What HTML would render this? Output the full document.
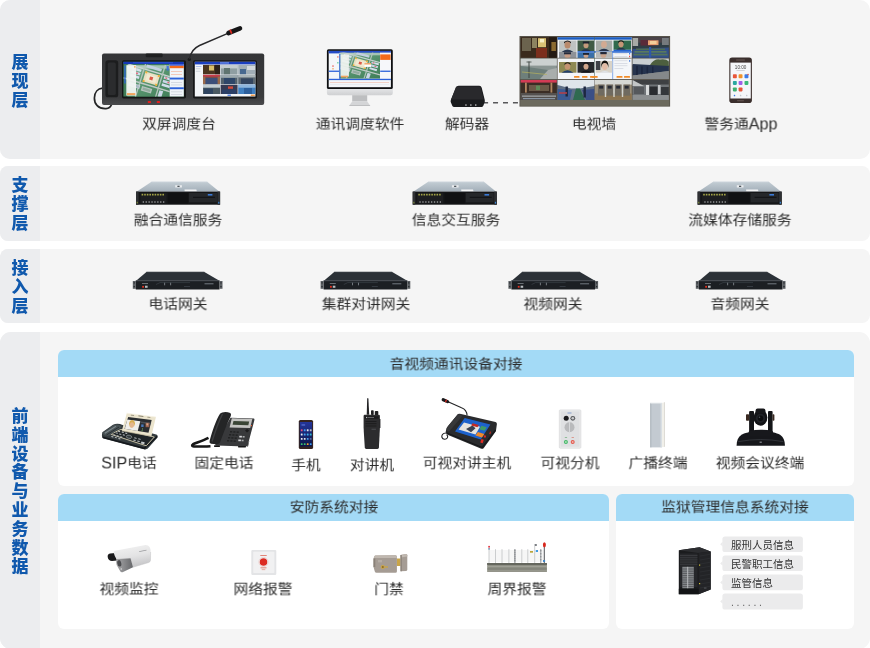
<!DOCTYPE html>
<html lang="zh-CN">
<head>
<meta charset="utf-8">
<title>系统架构</title>
<style>
html,body{margin:0;padding:0;background:#fff;}
body{width:870px;height:648px;position:relative;overflow:hidden;font-family:"Liberation Sans","Noto Sans CJK SC",sans-serif;color:#333;}
.panel{position:absolute;left:0;width:870px;background:#f5f5f5;border-radius:9px;overflow:hidden;}
.panel .lab{position:absolute;left:0;top:0;bottom:0;width:40px;background:#ecedef;}
.vt{position:absolute;left:0;width:40px;text-align:center;font-weight:900;font-size:17px;line-height:18.8px;color:#1059ad;}
.t,.vt,.chip{will-change:transform;}
.t{position:absolute;white-space:nowrap;font-size:14.75px;line-height:20px;height:20px;transform:translateX(-50%) scaleY(.9);color:#2c2c2c;}
.t .en{display:inline-block;font-size:16.2px;line-height:0;transform:scaleY(1.111);vertical-align:baseline;}
.box{position:absolute;background:#fff;border-radius:6px;overflow:hidden;}
.box .hd{position:absolute;left:0;top:0;right:0;height:27px;background:#a3daf6;}
.chip{position:absolute;left:722px;width:81px;height:16px;font-size:10.5px;line-height:16px;color:#333;padding-left:9px;box-sizing:border-box;white-space:nowrap;}
svg{position:absolute;overflow:visible;}
</style>
</head>
<body>
<!-- panels -->
<div class="panel" style="top:0;height:159px;border-radius:10px;"><div class="lab"></div></div>
<div class="panel" style="top:166px;height:75px;border-radius:8px;"><div class="lab"></div></div>
<div class="panel" style="top:249px;height:74px;border-radius:8px;"><div class="lab"></div></div>
<div class="panel" style="top:332px;height:317px;border-radius:11px;"><div class="lab"></div></div>

<!-- vertical labels -->
<div class="vt" style="top:53.5px;">展<br>现<br>层</div>
<div class="vt" style="top:176.5px;">支<br>撑<br>层</div>
<div class="vt" style="top:259.5px;">接<br>入<br>层</div>
<div class="vt" style="top:407.5px;">前<br>端<br>设<br>备<br>与<br>业<br>务<br>数<br>据</div>

<!-- inner boxes -->
<div class="box" style="left:58px;top:350px;width:796px;height:136px;"><div class="hd"></div></div>
<div class="box" style="left:58px;top:494px;width:551px;height:135px;"><div class="hd"></div></div>
<div class="box" style="left:616px;top:494px;width:238px;height:135px;"><div class="hd"></div></div>

<!-- GRAPHICS -->
<svg width="870" height="648" viewBox="0 0 870 648" style="left:0;top:0;">
<defs>
<linearGradient id="gTop" x1="0" y1="0" x2="0" y2="1"><stop offset="0" stop-color="#c3cdd4"/><stop offset="1" stop-color="#a2aeb8"/></linearGradient>
<linearGradient id="gMap" x1="0" y1="0" x2="1" y2="1"><stop offset="0" stop-color="#8fa79a"/><stop offset="0.5" stop-color="#7c9484"/><stop offset="1" stop-color="#6f8a78"/></linearGradient>
<linearGradient id="gMap2" x1="0" y1="0" x2="1" y2="1"><stop offset="0" stop-color="#a9c6b6"/><stop offset="0.35" stop-color="#5d9a74"/><stop offset="1" stop-color="#3f7d57"/></linearGradient>
<g id="map">
<rect x="0" y="0" width="48" height="34" fill="url(#gMap2)"/>
<rect x="0" y="0" width="48" height="3.5" fill="#b7d0c6" opacity=".8"/>
<g transform="rotate(17 24 17)">
<rect x="-4" y="5.500" width="58" height="1.500" fill="#c9d3d2"/>
<rect x="-4" y="20.500" width="58" height="1.700" fill="#bfcac6"/>
<rect x="13" y="-4" width="1.400" height="44" fill="#b4c4bc"/>
<rect x="33" y="-4" width="1.400" height="44" fill="#b4c4bc"/>
<rect x="2" y="7.800" width="9.500" height="2.600" fill="#d6e2ee"/><rect x="2" y="11.600" width="9.500" height="2.600" fill="#cfdcea"/><rect x="2" y="15.400" width="9.500" height="2.600" fill="#d6e2ee"/>
<rect x="15.500" y="1" width="16" height="3" fill="#c3d0e0"/>
<rect x="16" y="8.500" width="15.500" height="10.500" fill="#e9e0c3"/><rect x="18.500" y="10.500" width="10.500" height="6.500" fill="#f1ead2"/>
<rect x="22" y="12" width="3.400" height="3.400" fill="#dc5a48"/>
<rect x="16" y="8" width="2" height="2" fill="#efb03a"/><rect x="29.500" y="8" width="2" height="2" fill="#efb03a"/><rect x="16" y="17.600" width="2" height="2" fill="#efb03a"/><rect x="29.500" y="17.600" width="2" height="2" fill="#efb03a"/>
<rect x="36" y="7.500" width="9" height="2.600" fill="#d3deec"/><rect x="36" y="11.400" width="9" height="2.600" fill="#cad6e6"/><rect x="36" y="15.300" width="9" height="2.600" fill="#d3deec"/>
<rect x="37.500" y="8" width="2" height="1.500" fill="#e26a78"/><rect x="41" y="11.900" width="2" height="1.500" fill="#e26a78"/>
<rect x="4" y="8.300" width="2" height="1.500" fill="#e26a78"/><rect x="7" y="12.100" width="2" height="1.500" fill="#e26a78"/>
<rect x="3" y="23.800" width="12" height="4" fill="#c6d0d6"/><rect x="4" y="24.600" width="10" height="2.400" fill="#a9bbc4"/>
<rect x="17" y="24" width="11" height="5" fill="#b5c3bd"/><rect x="18.500" y="25.200" width="8" height="2.600" fill="#93ab9f"/>
<rect x="35.500" y="23" width="4" height="7" fill="#cbd7e6"/>
</g>
</g>
<clipPath id="cpMap1"><rect x="123.400" y="64.100" width="46.300" height="32.400"/></clipPath>
<clipPath id="cpMap2"><rect x="339.300" y="52.600" width="40.700" height="26.200"/></clipPath>
<linearGradient id="gBody" x1="0" y1="0" x2="0" y2="1"><stop offset="0" stop-color="#343537"/><stop offset="0.85" stop-color="#3a3b3d"/><stop offset="1" stop-color="#4a4b4d"/></linearGradient>
<linearGradient id="gChin" x1="0" y1="0" x2="0" y2="1"><stop offset="0" stop-color="#e6e7e9"/><stop offset="1" stop-color="#cfd0d2"/></linearGradient>
<linearGradient id="gPhoneScr" x1="0" y1="0" x2="0" y2="1"><stop offset="0" stop-color="#24359a"/><stop offset="1" stop-color="#0c1648"/></linearGradient>
</defs>

<!-- ===== console ===== -->
<g>
<path d="M112 96 C112.5 103 112 108.3 106 108.6 C98 109 94.3 104 94.4 98 C94.5 92 98 88.6 102.5 88.2" fill="none" stroke="#242526" stroke-width="1.7"/>
<rect x="102" y="53.4" width="162.2" height="51.6" rx="2" fill="url(#gBody)"/>
<rect x="145.7" y="53.4" width="17" height="3.8" rx="1.2" fill="#1f2021"/>
<rect x="105.4" y="60.3" width="12.8" height="37" rx="2.6" fill="#1c1d1e"/>
<rect x="107.8" y="62.6" width="8" height="32.4" rx="1.6" fill="#2b2c2e"/>
<!-- left screen -->
<rect x="122" y="60.3" width="64" height="38.1" rx="1.6" fill="#151617"/>
<rect x="123.400" y="61.800" width="60.400" height="34.700" fill="#3f7d57"/>
<g clip-path="url(#cpMap1)"><use href="#map" transform="translate(127.400 65.300) scale(0.965 0.955)"/></g>
<rect x="123.400" y="61.800" width="60.400" height="2.300" fill="#1436b8"/>
<rect x="133" y="62.300" width="40" height="1" fill="#2d54d6" opacity=".9"/>
<rect x="124.200" y="65.500" width="1.500" height="18" fill="#2d62da" opacity=".85"/>
<rect x="126.300" y="65.200" width="9.700" height="30.400" fill="#f3f6f4" opacity=".93"/>
<rect x="126.900" y="93.100" width="8.400" height="2" fill="#f2a45c"/>
<rect x="134" y="66" width="1.700" height="1.700" rx=".8" fill="#f2a45c"/>
<rect x="166.600" y="66" width="2.200" height="4.500" fill="#3a6ee0" opacity=".9"/>
<rect x="169.7" y="64.1" width="14.1" height="32.4" fill="#f1f4f9"/>
<rect x="169.7" y="64.1" width="14.1" height="1.7" fill="#2d55dc"/>
<rect x="169.7" y="65.8" width="14.1" height="2.4" fill="#f26a1b"/>
<rect x="169.7" y="77.6" width="14.1" height="1.9" fill="#2d62da"/>
<rect x="169.7" y="87.3" width="14.1" height="1.9" fill="#2d62da"/>
<rect x="171" y="71" width="11" height=".7" fill="#f2b7a0"/><rect x="171" y="74" width="11" height=".7" fill="#f2b7a0"/>
<rect x="171" y="82" width="11" height=".7" fill="#c9cfd8"/><rect x="171" y="84.6" width="11" height=".7" fill="#c9cfd8"/>
<rect x="171" y="91.5" width="11" height=".7" fill="#c9cfd8"/><rect x="171" y="94" width="11" height=".7" fill="#c9cfd8"/>
<!-- right screen -->
<rect x="193" y="60.3" width="64" height="38.1" rx="1.6" fill="#151617"/>
<rect x="194.8" y="61.8" width="60.6" height="34.7" fill="#f2f4f7"/>
<rect x="194.8" y="61.8" width="60.6" height="2.6" fill="#1a3fc0"/>
<rect x="220" y="62.4" width="9" height="1.1" fill="#7fa0ee"/>
<rect x="195.8" y="66" width="5.6" height=".8" fill="#9fb4e6"/><rect x="195.8" y="68.4" width="4.6" height=".8" fill="#c6ccd6"/><rect x="195.8" y="70.8" width="4.6" height=".8" fill="#c6ccd6"/>
<!-- 3x3 grid -->
<rect x="203" y="64.9" width="17" height="9.3" fill="#4a3520"/><rect x="209" y="65.5" width="5" height="5" fill="#d9bf6a"/><rect x="215" y="64.9" width="5" height="9.3" fill="#2c2218"/>
<rect x="220.6" y="64.9" width="17" height="9.3" fill="#8f9ea2"/><rect x="220.6" y="64.9" width="17" height="3.5" fill="#c3ccd0"/><rect x="224" y="68" width="6" height="6.2" fill="#5f7470"/>
<rect x="238.2" y="64.9" width="17.2" height="9.3" fill="#a0adb6"/><rect x="240" y="69" width="6" height="5.2" fill="#47688f"/><rect x="247" y="66" width="8" height="4" fill="#d2d8dc"/>
<rect x="203" y="74.8" width="17" height="9.3" fill="#7a4a48"/><rect x="203" y="74.8" width="17" height="1.8" fill="#c83a48"/><rect x="205" y="78" width="13" height="6.1" fill="#3c4f78"/><rect x="203" y="76.6" width="2.4" height="7.5" fill="#9a6a4a"/><rect x="217.6" y="76.6" width="2.4" height="7.5" fill="#9a6a4a"/>
<rect x="220.6" y="74.8" width="17" height="9.3" fill="#52616c"/><rect x="220.6" y="74.8" width="17" height="3" fill="#9ba8ad"/><rect x="224" y="78" width="11" height="6" fill="#2e4668"/>
<rect x="238.2" y="74.8" width="17.2" height="9.3" fill="#5c6972"/><rect x="238.2" y="74.8" width="17.2" height="2.6" fill="#aab4b8"/><rect x="241" y="78.4" width="12" height="5.7" fill="#33455f"/>
<rect x="203" y="84.7" width="17" height="9.3" fill="#4b5a62"/><rect x="203" y="84.7" width="17" height="3" fill="#c4ced2"/><rect x="204" y="88.5" width="9" height="5.5" fill="#2f4460"/>
<rect x="220.6" y="84.7" width="17" height="9.3" fill="#353a52"/><rect x="228" y="86.4" width="5" height="2.4" fill="#d24a3a"/><rect x="222" y="89.5" width="14" height="4.5" fill="#2b3f66"/>
<rect x="238.2" y="84.7" width="17.2" height="9.3" fill="#3f7fc0"/><rect x="238.2" y="84.7" width="17.2" height="3" fill="#8fb6dc"/><rect x="244" y="88" width="8" height="6" fill="#2c5f9c"/>
<rect x="227.5" y="94.6" width="3.4" height="1.2" fill="#3a6fe0"/><rect x="250.8" y="94.6" width="4" height="1.3" fill="#f0923a"/>
<!-- buttons, mic -->
<rect x="147.8" y="101" width="3.2" height="2.1" rx=".6" fill="#e3201f"/><rect x="156.8" y="101" width="3.2" height="2.1" rx=".6" fill="#e3201f"/>
<circle cx="189.3" cy="59.4" r="1.7" fill="#1a1b1c"/>
<path d="M189.4 59 C190.3 53.5 193 48.5 199.5 45.5 L229 32.8" fill="none" stroke="#29292b" stroke-width="1.4"/>
<path d="M228.5 33 L240 28.4" stroke="#161617" stroke-width="4.6" stroke-linecap="round"/>
<path d="M231.7 33.7 L230 29.6" stroke="#e02a22" stroke-width="1.7"/>
</g>

<!-- ===== monitor ===== -->
<g>
<path d="M326.9 88 h65.9 v5 a2.2 2.2 0 0 1 -2.2 2.2 h-61.5 a2.2 2.2 0 0 1 -2.2 -2.2z" fill="url(#gChin)"/>
<rect x="326.9" y="49.3" width="65.9" height="39.7" rx="1.6" fill="#0f1012"/>
<rect x="328.7" y="50.9" width="62.2" height="36.3" fill="#f4f6f9"/>
<rect x="328.7" y="50.9" width="62.2" height="2.500" fill="#244cc8"/>
<g clip-path="url(#cpMap2)"><use href="#map" transform="translate(339.300 52.600) scale(0.850 0.772)"/></g>
<rect x="339.300" y="54" width="1.200" height="24.800" fill="#2d62da"/>
<rect x="340.500" y="54.500" width="8.400" height="22" fill="#eef3ef" opacity=".93"/>
<rect x="341" y="75.700" width="7" height="1.700" fill="#f2a45c"/>
<rect x="364.4" y="63.3" width="6.6" height="3.6" fill="#fff"/><rect x="364.4" y="63.3" width="6.6" height="1.1" fill="#f28a3a"/>
<rect x="380" y="52.6" width="10.9" height="26.2" fill="#f6f7fa"/>
<rect x="380.2" y="54.4" width="10.4" height="5.5" fill="#f26a1b"/>
<rect x="380.2" y="70.6" width="10.4" height="1.3" fill="#2d62da"/>
<rect x="328.7" y="70.6" width="10.4" height="1.3" fill="#2d62da"/>

<rect x="337" y="56.5" width="1.6" height=".9" fill="#e8504a"/><rect x="337" y="62.4" width="1.6" height=".9" fill="#39c089"/><rect x="332" y="65.6" width="2" height=".9" fill="#e8504a"/><rect x="332" y="68.4" width="2" height=".9" fill="#f0a35a"/>
<rect x="328.7" y="78.8" width="62.2" height="1.3" fill="#2d62da"/>
<rect x="330" y="82" width="59" height=".6" fill="#f1b9a6"/><rect x="330" y="84.2" width="59" height=".6" fill="#e3e6ec"/>
<path d="M352.2 95.2 h15 v6.3 h-15z" fill="#bdbec0"/>
<path d="M352.2 101.5 h15 l2.9 4.1 h-20.8z" fill="#d4d5d7"/>
<rect x="349.3" y="105" width="20.8" height=".8" fill="#b5b6b8"/>
</g>

<!-- ===== decoder + dashed link ===== -->
<path d="M483.1 102.7 H519.4" stroke="#58585a" stroke-width="1.5" stroke-dasharray="5 4.95" fill="none"/>
<g>
<path d="M456.6 85.8 h22.6 q2 0 2.5 1.9 l3 12 q.4 1.5 -.2 3 l-1.3 3.2 q-.5 1 -1.7 1 h-27.4 q-1.2 0 -1.7 -1 l-1.5 -3.4 q-.6 -1.4 0 -2.8 l5.2 -12.2 q.8 -1.7 2.5 -1.7z" fill="#1a1b1d"/>
<path d="M456.8 86.6 h22.2 q1.4 0 1.8 1.4 l2.9 11.6 h-32.6 l4.5 -11.8 q.4 -1.2 1.200 -1.2z" fill="#29292c"/>
<rect x="465.3" y="104.3" width="1.3" height="1.5" fill="#b9babc"/><rect x="470.2" y="104.3" width="1.3" height="1.5" fill="#b9babc"/><rect x="475.1" y="104.3" width="1.3" height="1.5" fill="#b9babc"/>
</g>
<!-- ===== TV wall ===== -->
<g>
<rect x="519.500" y="36" width="150.600" height="70.600" fill="#57534a"/>
<rect x="520.300" y="100" width="149" height="5.900" fill="#6c6a5e"/>

<!-- c1 r1 corridor -->
<rect x="520.7" y="37.2" width="36.1" height="20.5" fill="#3a2a1c"/>
<rect x="522" y="38" width="9" height="13" fill="#6b634e"/><rect x="532" y="38" width="5" height="10" fill="#8d8360"/>
<rect x="538" y="38.2" width="8" height="9" fill="#d8c174"/><rect x="540" y="39" width="4" height="3.4" fill="#f6efc6"/>
<rect x="536" y="48" width="11" height="9.7" fill="#7b2e1c"/><rect x="549" y="37.2" width="7.8" height="20.5" fill="#241a12"/><rect x="551.4" y="42" width="4.5" height="9" fill="#8b6a30"/>
<!-- c1 r2 fence -->
<rect x="520.7" y="58.6" width="36.1" height="20.5" fill="#8b9693"/>
<rect x="520.7" y="58.6" width="36.1" height="7" fill="#ccd1d0"/>
<path d="M520.7 66 L548 70 L548 79.100 L520.7 79.100z" fill="#6e7f7b"/>
<path d="M548 70 L556.800 68 V79.100 H540z" fill="#a9aeac"/>
<path d="M529 61.500 V78" stroke="#3f4643" stroke-width="1"/><path d="M526.500 62 L531.500 62" stroke="#3f4643" stroke-width=".8"/>
<path d="M522 72 L547 74.500" stroke="#b8b25c" stroke-width=".7"/>
<!-- c1 r3 hall -->
<rect x="520.7" y="80" width="36.1" height="19.9" fill="#3b2d25"/>
<rect x="520.7" y="80" width="36.1" height="2.6" fill="#d23b55"/>
<rect x="525" y="82.600" width="1.800" height="10" fill="#b08660"/><rect x="550.5" y="82.600" width="1.800" height="10" fill="#b08660"/>
<rect x="529" y="85" width="20" height="6" fill="#6a5a48"/><rect x="536" y="85.600" width="4" height="4.500" fill="#5f8a58"/>
<rect x="520.7" y="93" width="36.1" height="6.900" fill="#54504e"/>
<rect x="522" y="95.500" width="34" height="1.300" fill="#b9bdc2" opacity=".75"/><rect x="523" y="98" width="32" height="1.200" fill="#9fb2c8" opacity=".7"/>
<!-- center conferencing UI (c2-c3, r1-r2) -->
<rect x="557.6" y="37.2" width="74.1" height="41.900" fill="#f4f6f9"/>
<rect x="557.6" y="37.2" width="74.1" height="2.500" fill="#1a5cc2"/>
<rect x="559" y="40.500" width="17.500" height="11.500" fill="#bfc3c2"/><ellipse cx="567.500" cy="45" rx="3" ry="3.600" fill="#b98a6c"/><path d="M564 43.500 q3.500 -3.800 7 0 v-1.500 q-3.500 -3 -7 0z" fill="#231d1b"/><path d="M561.500 52 q6 -5 12 0z" fill="#2c3950"/>
<rect x="577.5" y="40.500" width="16.500" height="10.700" fill="#3f5a45"/><ellipse cx="586" cy="45.300" rx="2.500" ry="3" fill="#c49a7c"/><rect x="582.800" y="41.500" width="6.400" height="2" fill="#1d2230"/><path d="M581 51.200 q5 -4.500 10 0z" fill="#27324a"/>
<rect x="577.5" y="51.200" width="54.200" height="1.500" fill="#2463d0"/>
<rect x="559" y="52" width="17.500" height="6" fill="#8e9298"/><ellipse cx="567.500" cy="55.500" rx="3" ry="2.500" fill="#c59b84"/><rect x="564" y="52.300" width="7" height="2" fill="#252a3a"/>
<rect x="577.5" y="52.700" width="16.500" height="5.300" fill="#3a6fa8"/><ellipse cx="586" cy="56" rx="2.500" ry="2" fill="#caa088"/><rect x="583" y="53" width="6" height="1.800" fill="#1d2230"/>
<rect x="557.6" y="57.800" width="74.100" height=".800" fill="#6a6a62"/>
<rect x="559" y="62" width="17.500" height="10.700" fill="#8e8a54"/><ellipse cx="567.500" cy="66.500" rx="2.800" ry="3.300" fill="#c49372"/><path d="M564.500 65 q3 -3.600 6 0 v-1.500 q-3 -2.600 -6 0z" fill="#1f1a18"/><path d="M561.500 72.700 q6 -5 12 0z" fill="#25406e"/>
<rect x="577.5" y="62" width="16.500" height="10.700" fill="#26282c"/><ellipse cx="586" cy="66.500" rx="2.500" ry="3.100" fill="#d0a68c"/><path d="M583.300 65.300 q2.700 -3.800 5.400 0 v-1.700 q-2.700 -2.500 -5.400 0z" fill="#15161a"/><path d="M580.500 72.700 q5.500 -4.500 11 0z" fill="#14161c"/>
<rect x="574" y="76" width="5.500" height="1.800" rx=".5" fill="#f28c28"/><rect x="582" y="76" width="5.500" height="1.800" rx=".5" fill="#f28c28"/><rect x="590" y="76" width="4.500" height="1.800" rx=".5" fill="#f28c28"/>
<rect x="594.400" y="37.2" width=".600" height="41.900" fill="#4e6a60"/>
<rect x="595.800" y="40.500" width="16.500" height="10.500" fill="#a7aca8"/><ellipse cx="604" cy="44.500" rx="2.900" ry="3.400" fill="#d2aa92"/><path d="M598.500 51 q5.500 -4.600 11 0z" fill="#28344c"/>
<rect x="613.5" y="40.500" width="17.500" height="9.300" fill="#2f6a4c"/><ellipse cx="621" cy="44.300" rx="2.600" ry="3.100" fill="#c49676"/><path d="M618.200 43 q2.800 -3.600 5.600 0 v-1.500 q-2.800 -2.400 -5.600 0z" fill="#1b1a18"/><path d="M616 49.800 q5 -4 10 0z" fill="#2a3348"/>
<rect x="613.5" y="49.800" width="17.500" height="1.400" fill="#2463d0"/>
<rect x="595.800" y="51.400" width="16.500" height="6.400" fill="#b7b9b8"/><ellipse cx="603.500" cy="55.500" rx="2.800" ry="2.300" fill="#c9a48e"/><rect x="600.300" y="52" width="6.400" height="2.200" fill="#252a3a"/>
<rect x="614.400" y="53.500" width="13" height=".600" fill="#c9ced8"/><rect x="614.400" y="56" width="13" height=".600" fill="#c9ced8"/><rect x="614.400" y="60.500" width="13" height=".600" fill="#c9ced8"/><rect x="614.400" y="63" width="13" height=".600" fill="#c9ced8"/><rect x="614.400" y="65.500" width="13" height=".600" fill="#c9ced8"/><rect x="614.400" y="68" width="9" height=".600" fill="#c9ced8"/>
<rect x="629" y="53" width="1.200" height="1.500" fill="#3f7ae0"/><rect x="629" y="55.700" width="1.200" height="1.500" fill="#e8504a"/><rect x="629" y="60.200" width="1.200" height="1.500" fill="#3f7ae0"/>
<rect x="612.500" y="51.400" width=".600" height="27.700" fill="#3f7ae0"/>
<rect x="595.800" y="61" width="16.500" height="11.700" fill="#d9d3c8"/><rect x="595.800" y="61" width="4.500" height="9" fill="#3f4248"/><ellipse cx="604.800" cy="66.500" rx="2.800" ry="3.400" fill="#e2bca6"/><path d="M601.300 68 q-.800 -7.500 3.500 -7.500 q4.300 0 3.500 7.500 q-.300 -5 -3.500 -5 q-3.200 0 -3.500 5z" fill="#15130f"/><path d="M599.500 72.700 q5.300 -3.600 10.600 0z" fill="#dfe3ea"/>
<rect x="591.700" y="76" width="6" height="1.800" rx=".5" fill="#f28c28"/><rect x="616.500" y="76" width="6" height="1.800" rx=".5" fill="#f28c28"/><rect x="624" y="76" width="6" height="1.800" rx=".5" fill="#f28c28"/>
<!-- c2 r3 work hall -->
<rect x="557.6" y="80" width="36.800" height="19.900" fill="#5f6f86"/>
<path d="M557.6 80 H594.400 V86 L580 88.500 L571 88.500 L557.6 85z" fill="#dfe5ea"/>
<path d="M573 99.900 L576 88.500 L580 88.500 L585 99.900z" fill="#2f6a50"/>
<path d="M557.6 89 L572 90 L570 99.900 H557.600z" fill="#3b5a94"/><path d="M594.400 89 L582 90 L586 99.900 H594.400z" fill="#3b4f86"/>
<rect x="565.500" y="86.500" width="2.400" height="10" fill="#1d2740"/><rect x="583.500" y="86.500" width="2.400" height="11" fill="#1d2740"/>
<rect x="559" y="92" width="8" height="2" fill="#b0404a" opacity=".8"/>
<!-- c3 r3 booths -->
<rect x="594.800" y="80" width="36.900" height="19.900" fill="#9a8f7a"/>
<rect x="594.800" y="80" width="36.900" height="4.600" fill="#d6d8d4"/>
<rect x="594.800" y="93.500" width="36.900" height="6.400" fill="#8a7350"/>
<rect x="598" y="84.600" width="6.500" height="11" fill="#6f6a60"/><rect x="606.500" y="84.600" width="6.500" height="11" fill="#6f6a60"/><rect x="615" y="84.600" width="6.500" height="11" fill="#6f6a60"/><rect x="623.500" y="84.600" width="6.500" height="11" fill="#6f6a60"/>
<rect x="599.200" y="85.800" width="4" height="2.800" fill="#262a33"/><rect x="607.700" y="85.800" width="4" height="2.800" fill="#262a33"/><rect x="616.200" y="85.800" width="4" height="2.800" fill="#262a33"/><rect x="624.700" y="85.800" width="4" height="2.800" fill="#262a33"/>
<rect x="604.800" y="83" width="1.400" height="14" fill="#cfd2cf"/><rect x="613.300" y="83" width="1.400" height="14" fill="#cfd2cf"/><rect x="621.800" y="83" width="1.400" height="14" fill="#cfd2cf"/>
<!-- c4 r1 auditorium -->
<rect x="632.600" y="37.200" width="36.200" height="20.500" fill="#2f3d45"/>
<rect x="632.600" y="37.200" width="36.200" height="5.500" fill="#4b4348"/>
<rect x="632.600" y="38" width="5.500" height="8" fill="#a7aaa6"/>
<rect x="640.500" y="40" width="14" height="5.600" fill="#5a2a38"/><rect x="648" y="40.300" width="10.500" height="4.800" fill="#e7a070"/><rect x="650" y="41" width="6.500" height="3" fill="#f3cf9a"/>
<rect x="662" y="38" width="6.800" height="7" fill="#767a7e"/>
<path d="M632.600 49 L668.800 47.500 V57.700 H632.600z" fill="#33508a"/>
<rect x="636" y="48.500" width="29" height="1.600" fill="#4f6d55"/><rect x="634.500" y="51" width="32" height="1.700" fill="#587a5e"/><rect x="633.500" y="53.700" width="34" height="1.800" fill="#54735a"/>
<rect x="649" y="47" width="2.200" height="10.700" fill="#3058a8"/>
<!-- c4 r2 parade -->
<rect x="632.600" y="58.600" width="36.200" height="20.500" fill="#7c807f"/>
<rect x="632.600" y="58.600" width="36.200" height="6.500" fill="#c9cfd2"/>
<path d="M650 65 q4 -6.500 10 -5.500 q6 -1 8.800 2 V67 H650z" fill="#4d5f3f"/>
<path d="M632.600 64 L668.800 66 V71 L632.600 75.500z" fill="#26344e"/>
<rect x="636" y="66" width="2" height="9" fill="#1c2740"/><rect x="641" y="66.500" width="1.800" height="9.500" fill="#1c2740"/><rect x="646.500" y="66.500" width="1.600" height="8" fill="#1c2740"/><rect x="652" y="66.500" width="1.500" height="6.500" fill="#1c2740"/>
<path d="M632.600 75.500 L668.800 71 V79.100 H632.600z" fill="#85888a"/>
<!-- c4 r3 garage -->
<rect x="632.600" y="80" width="36.200" height="19.900" fill="#6f7377"/>
<rect x="632.600" y="80" width="36.200" height="4.500" fill="#3e4043"/>
<path d="M632.600 80 L644 86 H632.600z" fill="#c2c5c6"/>
<rect x="646" y="85" width="3" height="10" fill="#d9dbdc"/><rect x="658" y="85" width="2.500" height="9" fill="#c6c8ca"/>
<rect x="649.500" y="86.500" width="8" height="8.500" fill="#2a2c30"/><rect x="661" y="87" width="7.800" height="9" fill="#34373b"/>
<rect x="632.600" y="95" width="36.200" height="4.900" fill="#8b8e90"/><rect x="634" y="87" width="10" height="7" fill="#55585c"/>
</g>

<!-- ===== phone (警务通App) ===== -->
<g>
<rect x="729.300" y="57.600" width="22.600" height="45.500" rx="2.800" fill="#3b2f2d"/>
<rect x="730.400" y="62.600" width="20.400" height="35.900" fill="#f5f6f9"/>
<rect x="736" y="59.500" width="9" height=".900" rx=".4" fill="#6a5a56"/><rect x="737" y="100.300" width="7" height=".900" rx=".4" fill="#6a5a56"/>
<text x="740.600" y="68.900" font-size="4.600" text-anchor="middle" fill="#444" font-family="Liberation Sans, sans-serif">10:00</text>
<rect x="736.500" y="70.200" width="8.200" height=".600" fill="#b9bcc2"/>
<rect x="732.900" y="74.300" width="3.900" height="4" rx=".8" fill="#e8563a"/><rect x="738.600" y="74.300" width="3.900" height="4" rx=".8" fill="#f0922a"/><rect x="744.500" y="74.300" width="3.900" height="4" rx=".8" fill="#3b7be8"/><rect x="747.300" y="73.800" width="1.500" height="1.500" rx=".7" fill="#e8503a"/>
<rect x="732.900" y="80.900" width="3.900" height="4" rx=".8" fill="#2aa8a0"/><rect x="738.600" y="80.900" width="3.900" height="4" rx=".8" fill="#a060e8"/><rect x="744.500" y="80.900" width="3.900" height="4" rx=".8" fill="#3cb878"/>
<rect x="732.900" y="87.400" width="3.900" height="4" rx=".8" fill="#40b070"/><rect x="738.600" y="87.400" width="3.900" height="4" rx=".8" fill="#e8563a"/>
<rect x="733.800" y="94.800" width="1.400" height="1.400" rx=".5" fill="#3b7be8"/><rect x="739.900" y="94.800" width="1.400" height="1.400" rx=".5" fill="#c3c6cc"/><rect x="746" y="94.800" width="1.400" height="1.400" rx=".5" fill="#c3c6cc"/>
</g>
<!-- ===== servers ===== -->
<defs>
<g id="srv">
<path d="M151.5 181.800 H207.200 L219.500 191.700 H136.500z" fill="url(#gTop)"/>
<path d="M151.5 181.800 H207.200" stroke="#d5dce1" stroke-width=".6"/>
<rect x="175.200" y="185.200" width="6.700" height="2.300" fill="#e9ecee"/><rect x="177.400" y="185.700" width="2.200" height="1.300" fill="#4b5258"/>
<path d="M184.500 189.500 h11.800 l.6 1.900 h-12.200z" fill="#f3f4f5"/>
<rect x="136" y="191.600" width="84.100" height="13.100" fill="#151618"/>
<rect x="136" y="191.600" width="2.600" height="13.100" fill="#2e3033"/><rect x="217.500" y="191.600" width="2.600" height="13.100" fill="#2e3033"/>
<rect x="140.500" y="193.200" width="26" height="10" fill="#1d1e20"/>
<g fill="#a3a446"><rect x="141.600" y="193.800" width="1.600" height="1.700"/><rect x="144.200" y="193.800" width="1.600" height="1.700"/><rect x="146.800" y="193.800" width="1.600" height="1.700"/><rect x="149.400" y="193.800" width="1.600" height="1.700"/><rect x="152" y="193.800" width="1.600" height="1.700"/><rect x="154.600" y="193.800" width="1.600" height="1.700"/><rect x="157.200" y="193.800" width="1.600" height="1.700"/><rect x="159.800" y="193.800" width="1.600" height="1.700"/><rect x="162.400" y="193.800" width="1.600" height="1.700"/></g>
<g fill="#c9cbcd"><rect x="142.700" y="201.500" width="1.300" height="1"/><rect x="145.600" y="201.500" width="1.300" height="1"/><rect x="148.500" y="201.500" width="1.300" height="1"/><rect x="151.400" y="201.500" width="1.300" height="1"/><rect x="154.300" y="201.500" width="1.300" height="1"/><rect x="157.200" y="201.500" width="1.300" height="1"/><rect x="160.100" y="201.500" width="1.300" height="1"/><rect x="163" y="201.500" width="1.300" height="1"/></g>
<rect x="168" y="193" width="20" height="10.400" fill="#101113"/>
<rect x="189" y="193" width="28" height="9.400" fill="#25272a"/>
<rect x="193" y="196.800" width="22" height="1" fill="#111214"/>
<rect x="207.800" y="194" width="4.600" height="1.600" fill="#3a7ad6"/>
<rect x="218.200" y="201.800" width="1.200" height="1.800" fill="#3a86d6"/><rect x="136.700" y="201.800" width="1" height="1.600" fill="#8b9a3a"/>
</g>
<g id="gw">
<path d="M146.400 272 H204.400 L219 280.600 H136.400z" fill="#2b3137"/>
<path d="M146.400 272 H204.400" stroke="#464d55" stroke-width=".6"/>
<rect x="135.800" y="280.500" width="83.700" height="9" fill="#1c1f23"/>
<rect x="135.800" y="280.500" width="83.700" height=".8" fill="#3b4148"/>
<rect x="132.800" y="281" width="3.100" height="7.800" fill="#5c6064"/><rect x="219.400" y="281" width="3.100" height="7.800" fill="#5c6064"/>
<rect x="133.600" y="282.300" width="1.200" height="1.200" fill="#25282b"/><rect x="133.600" y="286" width="1.200" height="1.200" fill="#25282b"/><rect x="220.400" y="282.300" width="1.200" height="1.200" fill="#25282b"/><rect x="220.400" y="286" width="1.200" height="1.200" fill="#25282b"/>
<rect x="142.200" y="285.900" width="1.800" height="1.800" fill="#e2301f"/><rect x="145" y="285.700" width="2.600" height="2.100" fill="#b9bcbf"/>
<rect x="142" y="283.300" width="6" height=".7" fill="#8a9096"/>
<path d="M156 284.500 L160 282.600 H190" fill="none" stroke="#474e56" stroke-width=".5"/>
<rect x="164.300" y="282.700" width=".8" height="2.600" fill="#8a9096"/><rect x="170.300" y="282.700" width=".8" height="2.600" fill="#8a9096"/>
<rect x="184" y="286" width="6" height=".6" fill="#474e56"/>
<rect x="204.500" y="283.300" width="9" height="1" fill="#727980"/>
</g>
</defs>
<use href="#srv"/>
<use href="#srv" transform="translate(276.700 0)"/>
<use href="#srv" transform="translate(561.600 0)"/>
<use href="#gw"/>
<use href="#gw" transform="translate(187.800 0)"/>
<use href="#gw" transform="translate(375.600 0)"/>
<use href="#gw" transform="translate(563 0)"/>
<!-- ===== SIP phone ===== -->
<g>
<path d="M102.300 432.300 L113 424.800 Q116 423.300 120 424.100 L124 425.500 L157 434.800 Q158.200 436 157.300 437.800 L147.800 448.600 Q146.200 449.800 144 449.200 L103.500 438.600 Q101.700 437.600 101.900 435.600z" fill="#343b3e"/>
<path d="M102.600 437.300 L144.300 448.300 L157.200 436.300" fill="none" stroke="#15191d" stroke-width="1.700"/>
<path d="M110.700 434.200 L121 429.400 L154.300 437 L146.300 445.800z" fill="#1f2427" stroke="#d6ceb0" stroke-width=".9"/>
<path d="M103.200 432.600 L113.500 425.200 Q116.500 424.100 119.500 425.100 L121.700 427 L109.500 435.500 Q105.500 436.500 103.200 434.600z" fill="#485154"/>
<path d="M104.800 433.300 L116 426.200" stroke="#7a8589" stroke-width="1.300"/>
<path d="M106.500 435 L119 427" stroke="#2a3033" stroke-width="1"/>
<g fill="#c3c8cb"><rect x="113.500" y="434.300" width="2" height="1" transform="rotate(14 114 434)"/><rect x="117" y="435.200" width="2" height="1" transform="rotate(14 117 435)"/><rect x="120.500" y="436.100" width="2" height="1" transform="rotate(14 120 436)"/><rect x="116" y="432.400" width="2" height="1" transform="rotate(14 116 432)"/><rect x="119.500" y="433.300" width="2" height="1" transform="rotate(14 119 433)"/><rect x="123" y="434.200" width="2" height="1" transform="rotate(14 123 434)"/><rect x="118.500" y="430.700" width="2" height="1" transform="rotate(14 118 430)"/><rect x="122" y="431.600" width="2" height="1" transform="rotate(14 122 431)"/><rect x="125.500" y="432.500" width="2" height="1" transform="rotate(14 125 432)"/><rect x="111.500" y="436" width="2" height="1" transform="rotate(14 111 436)"/><rect x="115" y="436.900" width="2" height="1" transform="rotate(14 115 437)"/><rect x="118.500" y="437.800" width="2" height="1" transform="rotate(14 118 438)"/><rect x="133.500" y="439.300" width="2.400" height="1" transform="rotate(14 133 439)"/><rect x="137.500" y="440.300" width="2.400" height="1" transform="rotate(14 137 440)"/><rect x="134.500" y="437.200" width="2.400" height="1" transform="rotate(14 134 437)"/><rect x="138.500" y="438.200" width="2.400" height="1" transform="rotate(14 138 438)"/><rect x="141.500" y="441.300" width="3.400" height="2.200" transform="rotate(14 141 441)"/></g>
<ellipse cx="129" cy="436.800" rx="2.800" ry="1.600" fill="#343b3e" stroke="#a0a8ac" stroke-width=".6" transform="rotate(12 129 437)"/>
<path d="M126.800 413.200 L155.900 417 L151.400 436.300 L121.800 430.800z" fill="#ebe4cd"/>
<path d="M126.800 413.200 L155.900 417" stroke="#f8f4e6" stroke-width=".7"/>
<path d="M121.800 430.800 L151.400 436.300" stroke="#bdb59a" stroke-width=".7"/>
<path d="M128.200 416.900 L151.700 420 L148.500 432.800 L124.500 428.700z" fill="#2a2d31"/>
<path d="M127.300 419.600 L140.300 421.300 L137.700 431 L124.800 428.800z" fill="#f0eeea"/>
<ellipse cx="131.900" cy="424.700" rx="2.400" ry="3.200" fill="#e4b68c" transform="rotate(8 131.900 424.700)"/>
<path d="M129.200 426.500 q-.9 -6.200 3 -6.500 q3.700 .3 2.500 6.700 q-.3 -4.300 -2.600 -4.500 q-2.300 0 -2.900 4.300z" fill="#d9ae52"/>
<path d="M140.800 421.400 L151.200 422.800 L150.800 424.300 L140.400 422.900z" fill="#4a4f56"/>
<rect x="141.200" y="424.400" width="2.400" height="2.600" fill="#4a78b8"/><rect x="145.600" y="422.800" width="3.800" height="4.400" fill="#9a6350"/><rect x="146.400" y="423.400" width="1.800" height="2" fill="#d8a888"/>
<rect x="142" y="428.500" width="1" height=".9" fill="#7ac06a"/><rect x="141.600" y="430.300" width="1" height=".9" fill="#7ac06a"/>
<rect x="131" y="414.700" width="3.200" height=".7" fill="#8a8470" transform="rotate(7 131 414)"/><rect x="138.500" y="415.400" width="5" height=".8" fill="#6e6856" transform="rotate(7 138 415)"/><rect x="147.500" y="416.700" width="3" height=".7" fill="#8a8470" transform="rotate(7 147 416)"/>
</g>

<!-- ===== fixed phone ===== -->
<g>
<path d="M208.500 437.800 C204 440 196 443 193 444.300 C191.500 445.300 192 446.600 194 446.500 C200 446.400 206 446.600 210.500 446.300" fill="none" stroke="#161616" stroke-width="2.600" stroke-linejoin="round"/>
<path d="M230.500 417.800 L254 418.600 Q254.800 419.200 254.300 420.500 L247.800 445 Q247.200 446.500 245.500 446.500 L216.500 445.500 Q214.800 445.300 215.300 443.800z" fill="#38393b"/>
<path d="M247 446.500 L249.500 440 L248 446.500z" fill="#222"/>
<path d="M231.800 418.200 L252.300 418.900 L250.200 428 L229.600 427.500z" fill="#c4c4c2"/>
<path d="M233.500 420.900 L249.200 421.400 L248.300 425.200 L232.600 424.800z" fill="#3a4536"/>
<rect x="251" y="425" width="1" height="1.200" fill="#e2502a"/>
<path d="M245 430.500 l2.200 -1.600 l2 1.800 l-2.200 1.700z" fill="#1c1c1d"/>
<g fill="#232425"><rect x="230" y="431" width="2.200" height="1.500"/><rect x="233.300" y="431.200" width="2.200" height="1.500"/><rect x="236.600" y="431.400" width="2.200" height="1.500"/><rect x="229" y="434" width="2.200" height="1.500"/><rect x="232.300" y="434.200" width="2.200" height="1.500"/><rect x="235.600" y="434.400" width="2.200" height="1.500"/><rect x="228" y="437" width="2.200" height="1.500"/><rect x="231.300" y="437.200" width="2.200" height="1.500"/><rect x="234.600" y="437.400" width="2.200" height="1.500"/><rect x="227" y="440" width="2.200" height="1.500"/><rect x="230.300" y="440.200" width="2.200" height="1.500"/><rect x="233.600" y="440.400" width="2.200" height="1.500"/></g>
<rect x="239.300" y="435.800" width="2.600" height="1.700" fill="#d7d8da"/><rect x="242.600" y="436" width="2" height="1.600" fill="#a9abad"/><rect x="238.300" y="439.500" width="2.600" height="1.700" fill="#d7d8da"/><rect x="241.600" y="439.700" width="2" height="1.600" fill="#a9abad"/>
<path d="M222.300 412.400 Q226 411.300 230.300 412.900 Q231.500 414 230.800 416 C227 424 223 434 220 442.500 Q219 444.300 216.500 444.300 L211 443.800 Q209 443.200 209.600 441 C212 432 216 420 220 413.800 Q221 412.700 222.300 412.400z" fill="#242526"/>
<path d="M222.500 414 C219 421 215 432 212 441.500" fill="none" stroke="#3e3f41" stroke-width="1.400"/>
<rect x="214" y="445.300" width="6" height="1.600" rx=".6" fill="#161616"/><rect x="238" y="446" width="8" height="1.400" rx=".6" fill="#161616"/>
</g>

<!-- ===== mobile ===== -->
<g>
<rect x="298.800" y="419.900" width="14.300" height="29.100" rx="1.600" fill="#35231f"/>
<rect x="299.800" y="422" width="12.300" height="24.500" fill="url(#gPhoneScr)"/>
<rect x="301.500" y="424" width="3.600" height="1.900" fill="#4f66c8" opacity=".8"/>
<g><rect x="300.800" y="429.300" width="1.800" height="1.900" rx=".5" fill="#e4507a"/><rect x="303.800" y="429.300" width="1.800" height="1.900" rx=".5" fill="#3c9cf0"/><rect x="306.800" y="429.300" width="1.800" height="1.900" rx=".5" fill="#dfe3ea"/><rect x="309.800" y="429.300" width="1.800" height="1.900" rx=".5" fill="#b9bcc4"/>
<rect x="300.800" y="433.600" width="1.800" height="1.900" rx=".5" fill="#e8e8ef"/><rect x="303.800" y="433.600" width="1.800" height="1.900" rx=".5" fill="#4aa0f0"/><rect x="306.800" y="433.600" width="1.800" height="1.900" rx=".5" fill="#38b0e8"/><rect x="309.800" y="433.600" width="1.800" height="1.900" rx=".5" fill="#30b8c8"/>
<rect x="300.800" y="437.900" width="1.800" height="1.900" rx=".5" fill="#f0f0f4"/><rect x="303.800" y="437.900" width="1.800" height="1.900" rx=".5" fill="#e8e8ef"/><rect x="306.800" y="437.900" width="1.800" height="1.900" rx=".5" fill="#4aa0f0"/><rect x="309.800" y="437.900" width="1.800" height="1.900" rx=".5" fill="#5a6a9a"/>
<rect x="300.800" y="443.200" width="1.800" height="1.900" rx=".5" fill="#38c070"/><rect x="303.800" y="443.200" width="1.800" height="1.900" rx=".5" fill="#38c070"/><rect x="306.800" y="443.200" width="1.800" height="1.900" rx=".5" fill="#f0a030"/><rect x="309.800" y="443.200" width="1.800" height="1.900" rx=".5" fill="#3c9cf0"/></g>
</g>

<!-- ===== walkie-talkie ===== -->
<g>
<path d="M366.700 414.800 L367.200 398.500 Q367.800 397.300 368.400 398.500 L369.200 414.800z" fill="#232325"/>
<rect x="371" y="410.300" width="2.700" height="4.700" rx=".8" fill="#1f1f21"/><rect x="374.800" y="410.900" width="3.500" height="4.200" rx=".9" fill="#1f1f21"/>
<path d="M364.600 414.700 H378.800 Q379.900 414.700 379.900 416 L379.900 428 L378.900 447.600 Q378.800 448.900 377.500 448.900 H366.200 Q364.900 448.900 364.800 447.600 L363.600 428 V416 Q363.600 414.700 364.600 414.700z" fill="#2c2c2e"/>
<rect x="364.800" y="416.200" width="13.900" height="2.500" rx=".5" fill="#1a1a1c"/><rect x="366" y="416.900" width="1.300" height="1.200" fill="#b6b8ba"/><rect x="368" y="417" width="6" height=".9" fill="#6b6d70"/>
<rect x="365.500" y="421" width="11" height=".8" fill="#19191b"/><rect x="365.500" y="423.300" width="11" height=".8" fill="#19191b"/><rect x="365.500" y="425.600" width="11" height=".8" fill="#19191b"/>
<rect x="371.500" y="428.800" width="4.400" height=".8" fill="#54565a"/>
<rect x="379.400" y="419" width="1" height="9" fill="#1a1a1c"/>
</g>

<!-- ===== video intercom host ===== -->
<g>
<path d="M446 433 C442.500 433 441.300 435.500 442 437.500 C442.800 439.800 446.300 439.800 447.400 437.800 C448 436.600 447.500 435.300 446.500 434.800" fill="none" stroke="#1d1e20" stroke-width="1.100"/>
<path d="M467.100 415.500 C466.800 411.500 465 409 461.500 407.800 L447.500 401.600" fill="none" stroke="#222325" stroke-width="1.100"/>
<path d="M443.200 399.700 L447.600 401.600" stroke="#18181a" stroke-width="3.200" stroke-linecap="round"/>
<path d="M446.500 399.600 L445.500 402.300" stroke="#e02a22" stroke-width="1.200"/>
<path d="M458 414 Q459.500 413.500 461 413.900 L495.500 422 Q497 422.600 496.900 424 L495.900 431.300 L483.800 448 Q482.800 449.200 481.300 448.700 L447.500 434.700 Q445.500 433.600 445.700 431.400 Q446 428 448 426z" fill="#2a2b2d"/>
<path d="M447 433 L482.300 447.500 L495.500 430" fill="none" stroke="#17181a" stroke-width="1.300"/>
<path d="M457.600 414.400 Q460 413.800 461.500 415.200 L462 416.500 L449.500 431 Q447.500 431.600 446.500 430 Q446.300 428 448.200 426z" fill="#37383a"/>
<path d="M464.700 418 L490.400 424.600 L480.700 439.600 L455 431.400z" fill="#1d62cc"/>
<path d="M464 422.500 L480 426.800 L475.500 434.500 L458.600 429.600z" fill="#e6e4e0"/>
<path d="M466 429 l6.500 -3.500 l3 2.800 l-4.500 4z" fill="#3a4150"/>
<path d="M472.500 423.300 l6.300 1.700 l-1.300 2.200 l-6.300 -1.700z" fill="#c22a22"/>
<path d="M481.500 425.800 l5.300 1.400 l-2.200 3.600 l-5.300 -1.500z" fill="#3f9a6a"/>
<path d="M477.800 432 l6.500 1.900 l-2.300 3.700 l-6.500 -2z" fill="#f08a2a"/>
<rect x="484" y="435.400" width="2" height="2.200" fill="#e22a22" transform="rotate(17 485 436)"/><rect x="480.800" y="439.300" width="2.500" height="3.600" fill="#e22a22" transform="rotate(17 482 441)"/><rect x="489.800" y="431.500" width="1.200" height="2.600" fill="#c22a22" transform="rotate(17 490 432)"/>
</g>

<!-- ===== sub-unit ===== -->
<g>
<rect x="559.300" y="409.900" width="21.600" height="38.300" rx="1" fill="#eceded" stroke="#d2d3d5" stroke-width=".6"/>
<rect x="560.600" y="411.300" width="19" height="35.500" fill="#dfe0e2"/>
<rect x="567.500" y="412.600" width="4" height=".8" fill="#6f8fc8"/>
<circle cx="566.200" cy="418.300" r="2.500" fill="#1b1b1d"/><circle cx="572.800" cy="418.300" r="2.400" fill="#55575a"/><circle cx="572.800" cy="418.300" r="1.300" fill="#c9cacc"/>
<circle cx="569.500" cy="427.200" r="5" fill="#b9babc"/><rect x="569.100" y="422.200" width=".8" height="10" fill="#dfe0e2"/>
<rect x="564.800" y="437.300" width="2.300" height=".7" fill="#6fae7a"/><rect x="571.600" y="437.300" width="2.300" height=".7" fill="#d87a6a"/>
<circle cx="565.900" cy="442" r="2" fill="#3fb765"/><circle cx="565.900" cy="442" r="1" fill="#a8e0b4"/>
<circle cx="572.700" cy="442" r="2" fill="#e2564a"/><circle cx="572.700" cy="442" r="1" fill="#f3b0a8"/>
</g>

<!-- ===== speaker column ===== -->
<g>
<path d="M661.700 403 L664.900 402.200 V446.800 L661.700 447.300z" fill="#f1f0ea"/>
<path d="M664.400 402.300 L664.900 402.200 V446.800 L664.400 446.900z" fill="#c9c8c0"/>
<rect x="650.300" y="402.900" width="11.500" height="44.500" fill="#c3cad1"/>
<rect x="650.300" y="402.900" width="1" height="44.500" fill="#aab2ba"/><rect x="660.600" y="402.900" width="1.200" height="44.500" fill="#dde2e6"/>
<rect x="650.300" y="402.900" width="11.500" height=".8" fill="#e1e5e9"/>
</g>

<!-- ===== PTZ camera ===== -->
<g>
<path d="M736.600 445.700 C736.600 441 738 437 741.500 434.700 C745 432.700 752 431.200 760.800 431.200 C769.500 431.200 776.500 432.700 780 434.700 C783.500 437 784.900 441 784.900 445.700 Z" fill="#16171b"/>
<path d="M738.300 441.600 Q760.700 437.500 783.200 441.600" fill="none" stroke="#3d4046" stroke-width=".7"/>
<rect x="749.100" y="411" width="4.900" height="24" rx="1" fill="#141518"/><rect x="768" y="411" width="4.600" height="24" rx="1" fill="#141518"/>
<path d="M749.100 431 Q760.700 428.500 772.600 431 L774 436 H747.500z" fill="#17181c"/>
<rect x="746" y="414.200" width="3.100" height="6.500" rx=".8" fill="#3a2a22"/><rect x="772.500" y="414.200" width="1.900" height="6.500" rx=".8" fill="#3a2a22"/>
<ellipse cx="760.500" cy="417.500" rx="6.900" ry="8.300" fill="#121316"/>
<rect x="755.600" y="408.500" width="9.800" height="5" rx="2" fill="#16171a"/>
<circle cx="760.500" cy="418.300" r="4.600" fill="#1f2126"/><circle cx="760.500" cy="418.300" r="2.700" fill="#0b0c0e"/><circle cx="759.500" cy="417.300" r=".8" fill="#4a5058"/>
<rect x="759.600" y="441.600" width="2.200" height="1.200" fill="#8a8d92"/>
</g>
<!-- ===== bullet camera ===== -->
<g>
<defs><linearGradient id="gCam" x1="0" y1="0" x2="0.300" y2="1"><stop offset="0" stop-color="#f4f4f4"/><stop offset="0.6" stop-color="#e3e3e4"/><stop offset="1" stop-color="#c9c9cb"/></linearGradient>
<linearGradient id="gCamF" x1="0" y1="0" x2="1" y2="0"><stop offset="0" stop-color="#a9a9ab"/><stop offset="1" stop-color="#66676a"/></linearGradient></defs>
<path d="M107.800 557.500 Q107 554.500 110 553.600 L115.500 553 L117 560.500 L112 561 Q108.500 560.600 107.800 557.500z" fill="#1a1a1c"/>
<path d="M113.800 553 Q113 551.500 115 550.800 L145.500 545 Q148.300 544.900 149.600 547 Q150.700 549 150.600 551 L150.500 560.300 Q150.300 562 148.700 562.500 L133 567.200 L130.500 558.300 L116.400 559.100 Q114.500 556 113.800 553z" fill="url(#gCam)"/>
<path d="M130.500 558.300 L133 567.200 L148.700 562.500 Q150.300 562 150.500 560.300 L150.600 552" fill="none" stroke="#c2c2c4" stroke-width=".5"/>
<path d="M116.400 559.100 L130.500 558.300 L133 567.200 L122.500 572.200 Q121 572.600 120.200 571.200 L116.600 565 Q115.700 562 116.400 559.100z" fill="url(#gCamF)"/>
<ellipse cx="119.300" cy="563.300" rx="2" ry="3.200" fill="#4a4b4e" transform="rotate(-12 119.300 563.300)"/>
<circle cx="121.300" cy="569" r=".8" fill="#d9d9db"/>
<rect x="139" y="551.200" width="7.500" height=".8" fill="#9a9b9e" transform="rotate(-11 139 551)"/>
</g>

<!-- ===== alarm button ===== -->
<g>
<rect x="251.300" y="549.900" width="25" height="25" rx="1.200" fill="#e3e4e6"/>
<rect x="253.200" y="551.800" width="21.200" height="21.200" rx=".8" fill="#f1f1f2"/>
<rect x="260.300" y="555" width="6.400" height=".9" fill="#e07a6a"/>
<circle cx="263.500" cy="562" r="3.800" fill="#dc2b22"/>
<circle cx="263.500" cy="562" r="4.600" fill="none" stroke="#e9c9c4" stroke-width=".7"/>
<rect x="260.500" y="567.400" width="6" height=".9" fill="#e07a6a"/><rect x="261.700" y="569.300" width="3.600" height=".8" fill="#e4988a"/>
</g>

<!-- ===== door lock ===== -->
<g>
<rect x="396.600" y="558.500" width="4" height="7.500" fill="#c9a548"/>
<path d="M375.500 555.600 L395.500 555.300 Q396.900 555.400 396.900 556.800 V571.400 Q396.900 572.700 395.500 572.700 H376.500 Q375.200 572.700 374.800 571.500 L373.500 567 V558.500 L374.300 556.600 Q374.700 555.600 375.500 555.600z" fill="#a59c94"/>
<path d="M375.500 555.600 L395.500 555.300 Q396.900 555.400 396.900 556.800 V558 H373.800 L374.300 556.600 Q374.700 555.600 375.500 555.600z" fill="#c0b8b0"/>
<rect x="373.500" y="558.500" width="1.800" height="8.500" fill="#8a8178"/>
<circle cx="382.800" cy="567" r="2.100" fill="#c9a548"/><circle cx="382.800" cy="567" r="1" fill="#8a6a2a"/><rect x="384.600" y="566.300" width="3.400" height="1.400" fill="#c9a548"/>
<rect x="378" y="560" width="4" height="2.400" fill="#b5ada5"/>
<path d="M400.500 555 L406 554 Q407.300 554 407.300 555.200 V569.800 Q407.300 570.900 406.200 571 L400.500 571.300z" fill="#a59c94"/>
<path d="M400.500 555 L406 554 Q407.300 554 407.300 555.200 V556.500 L400.500 557.500z" fill="#c0b8b0"/>
<rect x="400.500" y="555" width="1.300" height="16.300" fill="#8a8178"/>
</g>

<!-- ===== perimeter fence ===== -->
<g>
<g stroke="#d9dadb" stroke-width=".5"><path d="M489 551 H545"/><path d="M489 553 H545"/><path d="M489 555 H545"/><path d="M489 557 H545"/><path d="M489 559 H545"/><path d="M489 561 H545"/></g>
<g stroke="#c6c8ca" stroke-width=".9"><path d="M489 548 V563"/><path d="M495.500 549.200 V563"/><path d="M502 549.200 V563"/><path d="M508.900 549.200 V563"/><path d="M521.800 549.200 V563"/><path d="M527.800 549.200 V563"/><path d="M534.700 546 V563"/></g>
<path d="M514.900 549 V563" stroke="#8e9194" stroke-width="1.100"/><path d="M540.800 549 V563" stroke="#9a9da0" stroke-width="1.100"/>
<g fill="#6c7074"><rect x="514.200" y="550.500" width="1.400" height=".7"/><rect x="514.200" y="552.500" width="1.400" height=".7"/><rect x="514.200" y="554.500" width="1.400" height=".7"/><rect x="514.200" y="556.500" width="1.400" height=".7"/><rect x="514.200" y="558.500" width="1.400" height=".7"/><rect x="514.200" y="560.500" width="1.400" height=".7"/><rect x="540.100" y="550.500" width="1.400" height=".7"/><rect x="540.100" y="553.500" width="1.400" height=".7"/><rect x="540.100" y="556.500" width="1.400" height=".7"/><rect x="540.100" y="559.500" width="1.400" height=".7"/></g>
<path d="M544.300 546 V572" stroke="#55585c" stroke-width="1"/>
<rect x="488.200" y="545.900" width="1.800" height="1.700" fill="#e2404a"/><rect x="488.400" y="548.200" width="1.400" height="1.400" fill="#5a7fa8"/>
<ellipse cx="544.400" cy="544.800" rx="1.500" ry="2.600" fill="#d8281e"/>
<rect x="534.600" y="544" width="2.200" height="2" fill="#7c7f84"/>
<rect x="535.800" y="550" width="2.200" height="2" fill="#3f9be0"/>
<rect x="530" y="551" width="3" height="1.700" fill="#b9a53a"/>
<rect x="543.100" y="560" width="2" height="2" fill="#3f86c8"/>
<rect x="487.200" y="563" width="59.700" height="9" fill="#8e8f84"/>
<rect x="487.200" y="563" width="59.700" height="2" fill="#65675e"/>
<rect x="487.200" y="566.300" width="59.700" height=".7" fill="#a7a89e"/><rect x="487.200" y="568.600" width="59.700" height=".7" fill="#777970"/><rect x="487.200" y="570.600" width="59.700" height=".7" fill="#a2a398"/>
</g>

<!-- ===== cabinet ===== -->
<g>
<path d="M678.800 550.300 L699.500 547.200 L710.700 551.600 V589.600 L698.600 594.200 H678.800z" fill="#1b1c1e"/>
<path d="M678.800 550.300 L699.500 547.200 L710.700 551.600 L698.600 553z" fill="#2c2d30"/>
<path d="M698.600 553 L710.700 551.600 V589.600 L698.600 594.200z" fill="#232427"/>
<g stroke="#34363a" stroke-width=".5"><path d="M700 556 L710 554.300"/><path d="M700 560 L710 558.300"/><path d="M700 564 L710 562.300"/><path d="M700 568 L710 566.300"/><path d="M700 572 L710 570.300"/><path d="M700 576 L710 574.300"/><path d="M700 580 L710 578.300"/><path d="M700 584 L710 582.300"/><path d="M700 588 L710 586.300"/></g>
<rect x="680" y="553.500" width="17.500" height="33.500" fill="#26272a"/>
<g stroke="#4a4c50" stroke-width=".5"><path d="M680 555.500 H697.500"/><path d="M680 557.700 H697.500"/><path d="M680 559.900 H697.500"/><path d="M680 562.100 H697.500"/><path d="M680 564.300 H697.500"/></g>
<rect x="682.300" y="566.800" width="11.500" height="21.500" fill="#84878a"/>
<g stroke="#3a3c40" stroke-width=".6"><path d="M682.300 569 H693.800"/><path d="M682.300 571.200 H693.800"/><path d="M682.300 573.400 H693.800"/><path d="M682.300 575.600 H693.800"/><path d="M682.300 577.800 H693.800"/><path d="M682.300 580 H693.800"/><path d="M682.300 582.200 H693.800"/><path d="M682.300 584.400 H693.800"/><path d="M682.300 586.600 H693.800"/></g>
<rect x="687.200" y="566.800" width="1" height="21.500" fill="#b9bbbe"/>
<rect x="699" y="564.500" width="1.200" height="1.200" fill="#d8c83a"/><rect x="699" y="583" width="1.200" height="1.200" fill="#d8c83a"/>
<rect x="678.800" y="588.800" width="19.800" height="5.400" fill="#131416"/>
<rect x="704" y="587" width="2.500" height="2" fill="#3d3f43"/>
</g>

<!-- chip bodies -->
<g fill="#ebebec"><rect x="722.400" y="536.500" width="80.500" height="15.600" rx="2.600"/><rect x="722.400" y="555.600" width="80.500" height="15.500" rx="2.600"/><rect x="722.400" y="574.600" width="80.500" height="15.700" rx="2.600"/><rect x="722.400" y="593.500" width="80.500" height="16.100" rx="2.600"/></g>
<!-- chip tails -->
<g fill="#ebebec">
<path d="M722.600 541.800 L720.200 544.200 L722.600 546.600z"/><path d="M722.600 561 L720.200 563.400 L722.600 565.800z"/><path d="M722.600 580 L720.200 582.400 L722.600 584.800z"/><path d="M722.600 599 L720.200 601.400 L722.600 603.800z"/>
</g>
</svg>


<!-- text labels: row 1 -->
<div class="t" style="left:178.5px;top:113.5px;">双屏调度台</div>
<div class="t" style="left:359.7px;top:113.5px;">通讯调度软件</div>
<div class="t" style="left:467px;top:113.5px;">解码器</div>
<div class="t" style="left:594.3px;top:113.5px;">电视墙</div>
<div class="t" style="left:740.6px;top:113.5px;">警务通<span class="en">App</span></div>
<!-- row 2 -->
<div class="t" style="left:178px;top:210px;">融合通信服务</div>
<div class="t" style="left:455.5px;top:210px;">信息交互服务</div>
<div class="t" style="left:739.7px;top:210px;">流媒体存储服务</div>
<!-- row 3 -->
<div class="t" style="left:178.4px;top:294px;">电话网关</div>
<div class="t" style="left:365.6px;top:294px;">集群对讲网关</div>
<div class="t" style="left:552.7px;top:294px;">视频网关</div>
<div class="t" style="left:740px;top:294px;">音频网关</div>
<!-- box headers -->
<div class="t" style="left:456px;top:354px;">音视频通讯设备对接</div>
<div class="t" style="left:334px;top:497px;">安防系统对接</div>
<div class="t" style="left:735px;top:497px;">监狱管理信息系统对接</div>
<!-- devices -->
<div class="t" style="left:129.2px;top:453px;"><span class="en">SIP</span>电话</div>
<div class="t" style="left:224.2px;top:453px;">固定电话</div>
<div class="t" style="left:306.3px;top:455px;">手机</div>
<div class="t" style="left:371.7px;top:455px;">对讲机</div>
<div class="t" style="left:467.3px;top:453px;">可视对讲主机</div>
<div class="t" style="left:569.8px;top:453px;">可视分机</div>
<div class="t" style="left:657.8px;top:453px;">广播终端</div>
<div class="t" style="left:760px;top:453px;">视频会议终端</div>
<!-- security -->
<div class="t" style="left:129.2px;top:579px;">视频监控</div>
<div class="t" style="left:263.1px;top:579px;">网络报警</div>
<div class="t" style="left:389.2px;top:579px;">门禁</div>
<div class="t" style="left:516.6px;top:579px;">周界报警</div>
<!-- chips -->
<div class="chip" style="top:536.5px;">服刑人员信息</div>
<div class="chip" style="top:555.6px;">民警职工信息</div>
<div class="chip" style="top:574.6px;">监管信息</div>
<div class="chip" style="top:593.5px;letter-spacing:2.7px;color:#666;">......</div>
</body>
</html>
